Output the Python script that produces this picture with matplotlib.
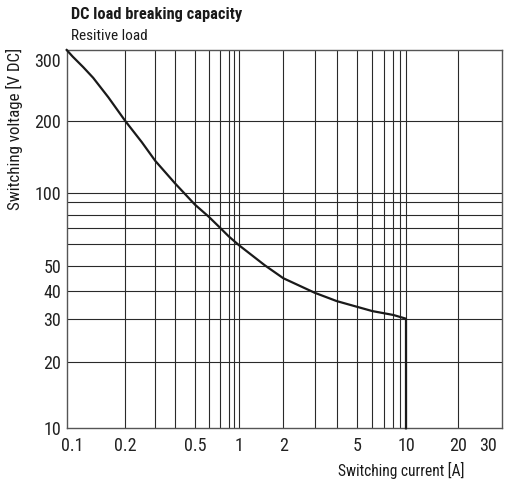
import numpy as np
import matplotlib
matplotlib.use("Agg")
import matplotlib.pyplot as plt
import matplotlib.transforms as mtransforms
from matplotlib.ticker import FixedLocator, FixedFormatter, NullFormatter

plt.rcParams['font.family'] = ['Roboto Condensed', 'DejaVu Sans']

# ---- data ----
current_A = [0.0925, 0.1, 0.115, 0.131, 0.16, 0.2, 0.25, 0.3, 0.4, 0.5, 0.6, 0.7, 0.8, 1, 1.5, 2, 3, 4, 5, 6, 8, 10, 10]
voltage_V = [300, 289, 272, 256, 229, 200, 163, 136, 109.5, 88, 78.4, 70, 64.5, 59.5, 50.3, 44.9, 39.4, 36.1, 34, 32.5, 31.2, 30, 10]

x_tick_values = [0.1, 0.2, 0.5, 1, 2, 5, 10, 20, 30]
x_tick_labels = ["0.1", "0.2", "0.5", "1", "2", "5", "10", "20", "30"]
y_tick_values = [10, 20, 30, 40, 50, 100, 200, 300]
y_tick_labels = ["10", "20", "30", "40", "50", "100", "200", "300"]

x_grid_values = [0.2, 0.3, 0.4, 0.5, 0.6, 0.7, 0.8, 0.9, 1, 2, 3, 4, 5, 6, 7, 8, 9, 10, 20]
y_grid_values = [20, 30, 40, 50, 60, 70, 80, 90, 100, 200]

x_limits = (0.0925, 36.4)
y_limits = (10, 300)

# ---- printed (non-uniform) log axes: knots value -> axis fraction ----
x_knot_vals = [0.0925, 0.2, 0.3, 0.4, 0.5, 0.6, 0.7, 0.8, 0.9, 1,
               2, 3, 4, 5, 6, 7, 8, 9, 10, 20, 36.4]
x_knot_frac = [0.0, 0.1345, 0.2034, 0.2486, 0.2945, 0.3260, 0.3519, 0.3719, 0.3848, 0.3949,
               0.4972, 0.5693, 0.6198, 0.6664, 0.7016, 0.7291, 0.7498, 0.7652, 0.7789, 0.8976, 1.0]
y_knot_vals = [10, 20, 30, 40, 50, 60, 70, 80, 90, 100, 200, 300]
y_knot_frac = [0.0, 0.1753, 0.2897, 0.3621, 0.4290, 0.4872, 0.5303, 0.5646, 0.5974, 0.6228,
               0.8123, 1.0]


def make_scale(vals, fracs):
    kl = np.log10(np.asarray(vals, float))
    kf = np.asarray(fracs, float)
    s0 = (kf[1] - kf[0]) / (kl[1] - kl[0])
    s1 = (kf[-1] - kf[-2]) / (kl[-1] - kl[-2])
    kl_ext = np.concatenate([[kl[0] - 20], kl, [kl[-1] + 20]])
    kf_ext = np.concatenate([[kf[0] - 20 * s0], kf, [kf[-1] + 20 * s1]])

    def fwd(v):
        v = np.asarray(v, float)
        l = np.log10(np.clip(v, 1e-15, None))
        return np.interp(l, kl_ext, kf_ext)

    def inv(f):
        f = np.asarray(f, float)
        return 10 ** np.interp(f, kf_ext, kl_ext)

    return fwd, inv


W, H = 514, 480
fig = plt.figure(figsize=(W / 100, H / 100), dpi=100)
ax = fig.add_axes([66.7 / W, 1 - 428.3 / H, 435.6 / W, 378.3 / H])

ax.set_xscale('function', functions=make_scale(x_knot_vals, x_knot_frac))
ax.set_yscale('function', functions=make_scale(y_knot_vals, y_knot_frac))
ax.set_xlim(*x_limits)
ax.set_ylim(*y_limits)

ax.xaxis.remove_overlapping_locs = False
ax.yaxis.remove_overlapping_locs = False
ax.xaxis.set_major_locator(FixedLocator(x_tick_values))
ax.xaxis.set_major_formatter(FixedFormatter(x_tick_labels))
ax.yaxis.set_major_locator(FixedLocator(y_tick_values))
ax.yaxis.set_major_formatter(FixedFormatter(y_tick_labels))
ax.xaxis.set_minor_locator(FixedLocator(x_grid_values))
ax.yaxis.set_minor_locator(FixedLocator(y_grid_values))
ax.xaxis.set_minor_formatter(NullFormatter())
ax.yaxis.set_minor_formatter(NullFormatter())

ax.tick_params(which='both', length=0)
ax.tick_params(axis='x', which='major', pad=6, labelsize=13, colors='#222')
ax.tick_params(axis='y', which='major', pad=4, labelsize=13, colors='#222')
ax.grid(False, which='major')
ax.grid(True, which='minor', color='#2a2a2a', linewidth=0.8)

for s in ax.spines.values():
    s.set_color('#555555')
    s.set_linewidth(1.0)

ax.plot(current_A, voltage_V, color='#1a1a1a', linewidth=1.6, solid_joinstyle='round',
        clip_on=False, zorder=3)

fig.text(71 / W, 1 - 15 / H, "DC load breaking capacity", fontsize=11.8,
         fontweight='bold', ha='left', va='center', color='#1a1a1a')
fig.text(71 / W, 1 - 36 / H, "Resitive load", fontsize=11, ha='left', va='center',
         color='#1a1a1a')
fig.text(14 / W, 1 - 128.5 / H, "Switching voltage [V DC]", rotation=90, fontsize=12.2,
         ha='center', va='center', color='#1a1a1a')
fig.text(401 / W, 1 - 470 / H, "Switching current [A]", fontsize=11.2,
         ha='center', va='center', color='#1a1a1a')

# the top label "300" sits just below the top edge in the printed chart
fig.canvas.draw()
shift = mtransforms.ScaledTranslation(0, -0.1, fig.dpi_scale_trans)
for tick in ax.yaxis.get_major_ticks():
    if tick.label1.get_text() == "300":
        tick.label1.set_transform(tick.label1.get_transform() + shift)

fig.savefig("out.png", dpi=100)
